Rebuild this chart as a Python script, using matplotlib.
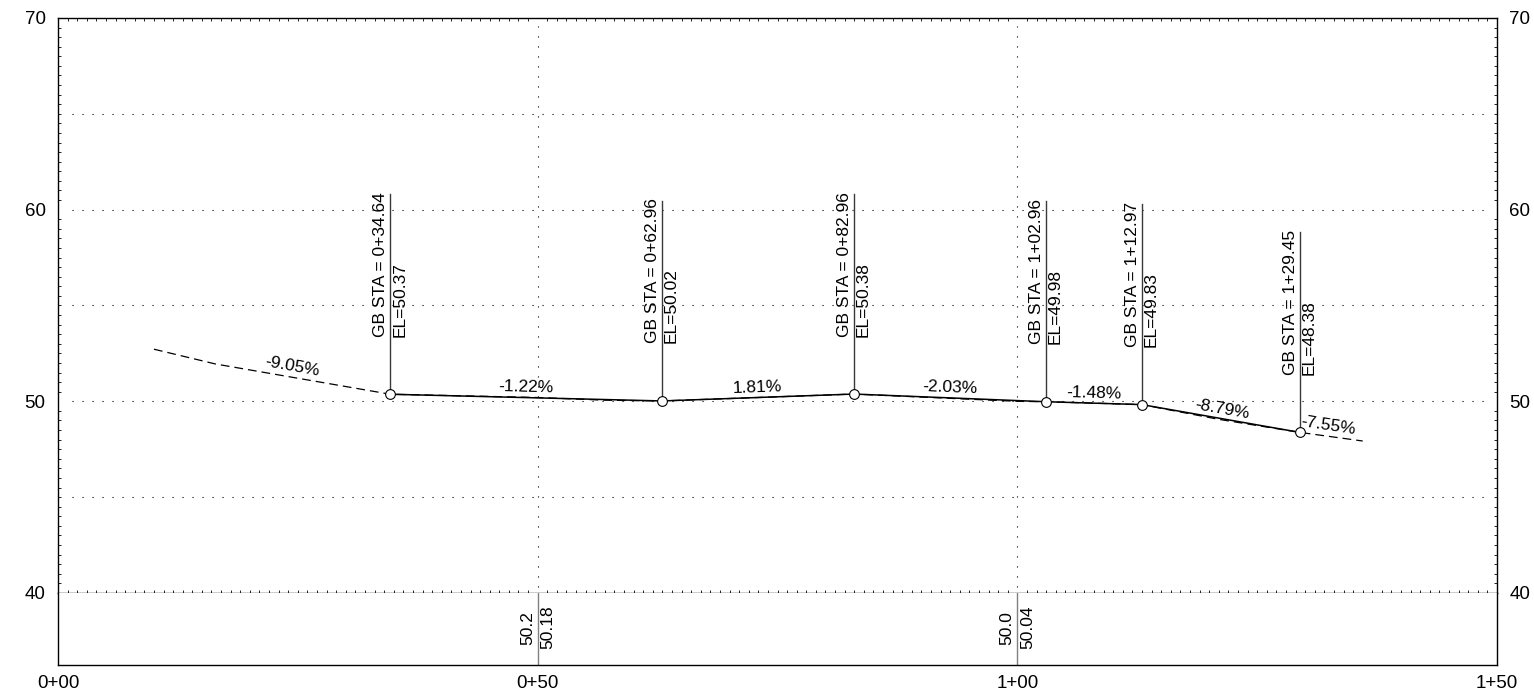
import numpy as np
import matplotlib
matplotlib.use("Agg")
import matplotlib.pyplot as plt
from matplotlib.ticker import MultipleLocator, FixedLocator

plt.rcParams["font.family"] = ["Liberation Sans", "DejaVu Sans"]
plt.rcParams["font.size"] = 12.5

# grade break points (design profile)
gb_sta = [34.64, 62.96, 82.96, 102.96, 112.97, 129.45]
gb_elev = [50.37, 50.02, 50.38, 49.98, 49.83, 48.38]

# existing ground (dashed)
eg_sta = [10.0, 16.4, 34.64, 50.0, 57.0, 62.96, 82.96, 100.0, 102.96, 112.97, 121.0, 129.45, 136.0]
eg_elev = [52.72, 51.95, 50.37, 50.2, 50.06, 50.02, 50.38, 50.0, 49.98, 49.83, 49.06, 48.38, 47.93]

# grades and the segment ends they label
grades = [-9.05, -1.22, 1.81, -2.03, -1.48, -8.79, -7.55]
grade_from = [13.8, 34.64, 62.96, 82.96, 102.96, 112.97, 129.45]
grade_to = [34.64, 62.96, 82.96, 102.96, 112.97, 129.45, 135.0]

# data band
band_sta = [50, 100]
band_eg = [50.2, 50.0]
band_fg = [50.18, 50.04]

x_ticks = [0, 50, 100, 150]
x_labels = ["0+00", "0+50", "1+00", "1+50"]
y_ticks = [40, 50, 60, 70]


def fmt_sta(s):
    return f"{int(s // 100)}+{s % 100:05.2f}"


fig = plt.figure(figsize=(15.34, 6.97), dpi=100)
ax = fig.add_axes([58 / 1534, 1 - 593 / 697, 1439 / 1534, 575 / 697])
band = fig.add_axes([58 / 1534, 1 - 665 / 697, 1439 / 1534, 72 / 697], sharex=ax)

ax.set_xlim(0, 150)
ax.set_ylim(40, 70)

# grid
dot = (0, (1, 8))
for gy in [45, 50, 55, 60, 65]:
    ax.plot([1.5, 148.6], [gy, gy], color="black", lw=0.8, ls=dot, zorder=1)
for gx in [50, 100]:
    ax.plot([gx, gx], [40.3, 69.6], color="black", lw=0.8, ls=dot, zorder=1)

# ground + design
ax.plot(eg_sta, eg_elev, color="black", lw=0.9, ls=(0, (7, 4)), zorder=2)
ax.plot(gb_sta, gb_elev, color="black", lw=1.1, zorder=3)
ax.plot(gb_sta, gb_elev, "o", ms=7, mfc="white", mec="black", mew=0.8, zorder=4)

# grade break labels
for s, e in zip(gb_sta, gb_elev):
    ax.plot([s, s], [e + 0.27, e + 10.45], color="#3a3a3a", lw=1, zorder=3)
    ax.annotate(f"GB STA = {fmt_sta(s)}", xy=(s, e + 3.0), xytext=(-1.5, 0),
                textcoords="offset points", rotation=90, rotation_mode="anchor",
                ha="left", va="bottom")
    ax.annotate(f"EL={e:.2f}", xy=(s, e + 3.0), xytext=(1.5, 0),
                textcoords="offset points", rotation=90, rotation_mode="anchor",
                ha="left", va="top")

# grade labels
for g, a, b in zip(grades, grade_from, grade_to):
    xm = (a + b) / 2
    ym = np.interp(xm, eg_sta, eg_elev)
    p1 = ax.transData.transform((xm, ym))
    p2 = ax.transData.transform((xm + 1, ym + g / 100))
    ang = np.degrees(np.arctan2(p2[1] - p1[1], p2[0] - p1[0]))
    d = 2.0
    ax.annotate(f"{g:.2f}%", xy=(xm, ym),
                xytext=(-np.sin(np.radians(ang)) * d, np.cos(np.radians(ang)) * d),
                textcoords="offset points", rotation=ang, rotation_mode="anchor",
                ha="center", va="bottom")

# axes styling
for sp in ax.spines.values():
    sp.set_linewidth(1.0)
ax.yaxis.set_major_locator(FixedLocator(y_ticks))
ax.yaxis.set_minor_locator(MultipleLocator(0.5))
ax.xaxis.set_minor_locator(MultipleLocator(1))
ax.tick_params(axis="y", which="major", length=0, pad=9, labelsize=13.5,
               labelright=True, right=True)
ax.tick_params(axis="y", which="minor", direction="in", length=2, width=0.6,
               left=True, right=True)
ax.tick_params(axis="x", which="major", length=0, labelbottom=False)
ax.tick_params(axis="x", which="minor", direction="in", length=2, width=0.6,
               top=True, bottom=True)

# band
band.set_ylim(0, 1)
band.spines["top"].set_visible(False)
for sp in ["left", "right", "bottom"]:
    band.spines[sp].set_linewidth(1.0)
band.set_yticks([])
band.set_xticks(x_ticks)
band.set_xticklabels(x_labels)
band.tick_params(axis="x", which="both", length=0, pad=7, labelsize=13.5)
for s, eg, fg in zip(band_sta, band_eg, band_fg):
    band.plot([s, s], [0, 1], color="#808080", lw=1)
    band.annotate(f"{eg:.1f}", xy=(s, 0.5), xytext=(-2, 1), textcoords="offset points",
                  rotation=90, rotation_mode="anchor", ha="center", va="bottom")
    band.annotate(f"{fg:.2f}", xy=(s, 0.5), xytext=(2, 1), textcoords="offset points",
                  rotation=90, rotation_mode="anchor", ha="center", va="top")

fig.savefig("out.png", dpi=100)
